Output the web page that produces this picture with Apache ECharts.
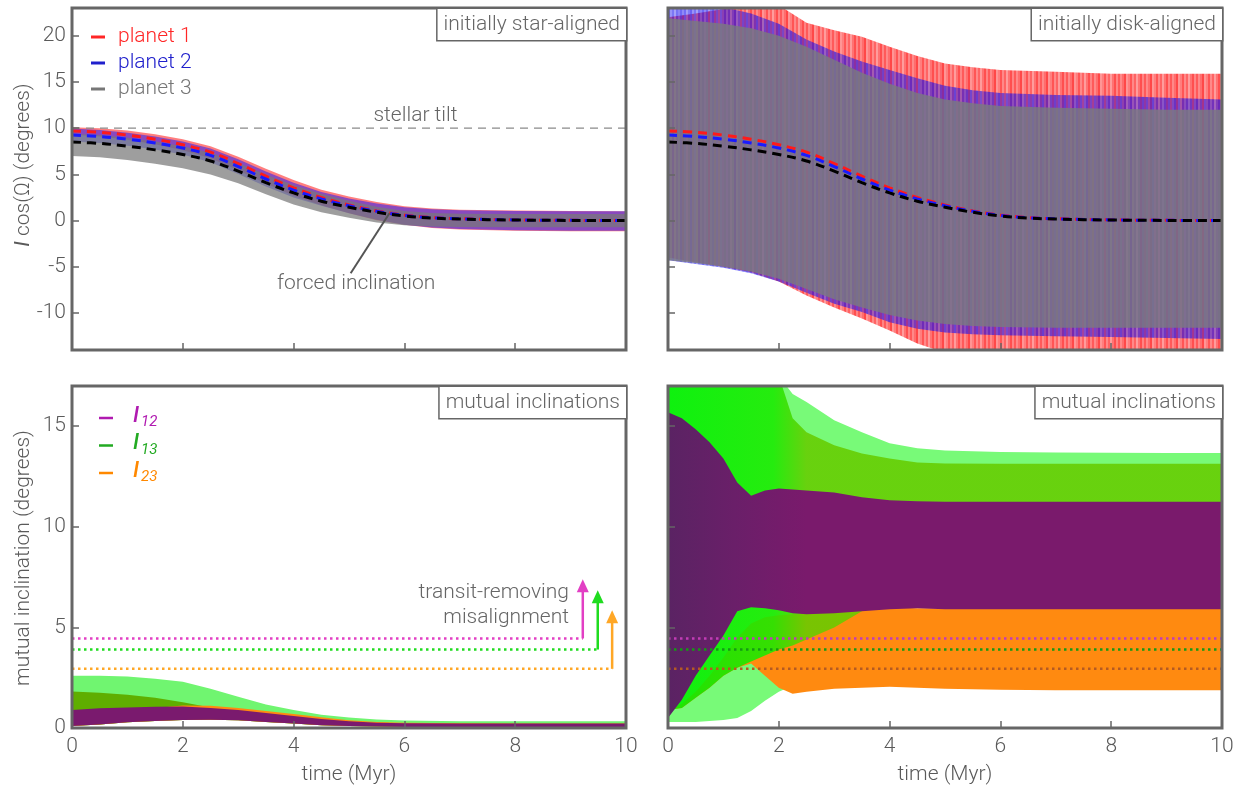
<!DOCTYPE html>
<html>
<head>
<meta charset="utf-8">
<script src="https://cdn.jsdelivr.net/npm/echarts@6/dist/echarts.min.js"></script>
<style>
  html, body { margin: 0; padding: 0; background: #fff; }
  #chart { width: 1243px; height: 788px; }
</style>
</head>
<body>
<div id="chart"></div>
<script>
// ---------- data (time in Myr, angles in degrees) ----------
// top row: I cos(Omega) of the three planets
const tTop = [0, 0.5, 1, 1.5, 2, 2.5, 3, 3.5, 4, 4.5, 5, 5.5, 6, 6.5, 7, 8, 9, 10];
// forced inclination of each planet (dashed curves)
const forced1 = [9.7, 9.55, 9.25, 8.8, 8.2, 7.4, 6.17, 4.8, 3.55, 2.5, 1.7, 1.05, 0.6, 0.33, 0.2, 0.08, 0.03, 0.01];
const forced2 = [9.25, 9.1, 8.8, 8.4, 7.85, 7.05, 5.85, 4.5, 3.3, 2.35, 1.6, 1.0, 0.56, 0.31, 0.19, 0.07, 0.03, 0.01];
const forced3 = [8.5, 8.35, 8.05, 7.65, 7.15, 6.45, 5.35, 4.1, 3.0, 2.1, 1.45, 0.9, 0.5, 0.28, 0.17, 0.06, 0.02, 0.0];
// oscillation envelopes, initially star-aligned
const star1Hi = [10.1, 10.0, 9.75, 9.35, 8.8, 8.05, 6.9, 5.6, 4.4, 3.35, 2.6, 2.0, 1.55, 1.3, 1.18, 1.08, 1.03, 1.0];
const star1Lo = [9.3, 9.1, 8.75, 8.25, 7.6, 6.75, 5.45, 4.0, 2.7, 1.65, 0.8, 0.05, -0.45, -0.8, -0.95, -1.1, -1.15, -1.15];
const star2Hi = [9.95, 9.8, 9.5, 9.1, 8.55, 7.8, 6.65, 5.3, 4.1, 3.1, 2.4, 1.85, 1.45, 1.22, 1.12, 1.04, 1.0, 1.0];
const star2Lo = [8.55, 8.4, 8.1, 7.7, 7.15, 6.3, 5.05, 3.7, 2.5, 1.6, 0.8, 0.1, -0.45, -0.75, -0.9, -1.05, -1.1, -1.1];
const star3Hi = [9.4, 9.25, 8.95, 8.55, 8.05, 7.35, 6.25, 5.0, 3.85, 2.9, 2.15, 1.5, 1.05, 0.82, 0.75, 0.7, 0.7, 0.7];
const star3Lo = [7.0, 6.85, 6.55, 6.15, 5.65, 5.0, 4.05, 2.85, 1.75, 0.9, 0.3, -0.2, -0.5, -0.65, -0.7, -0.72, -0.72, -0.72];
// oscillation envelopes, initially disk-aligned
const tDisk = [0, 0.5, 1, 1.5, 2, 2.5, 3, 3.5, 4, 4.5, 5, 5.5, 6, 7, 8, 9, 10];
const disk1Hi = [22.0, 22.4, 22.9, 23.6, 23.3, 21.4, 20.6, 19.9, 18.8, 17.8, 17.0, 16.6, 16.3, 16.1, 15.9, 15.9, 15.9];
const disk1Lo = [-4.0, -4.5, -5.0, -5.6, -6.6, -8.1, -9.4, -10.6, -11.9, -13.3, -14.3, -14.6, -14.6, -14.6, -14.6, -14.6, -14.6];
const disk2Hi = [23.5, 23.5, 23.1, 22.4, 21.3, 19.6, 18.3, 17.2, 16.3, 15.4, 14.6, 14.1, 13.8, 13.6, 13.5, 13.3, 13.1];
const disk2Lo = [-4.3, -4.7, -5.1, -5.7, -6.6, -7.8, -9.0, -9.9, -11.0, -11.7, -12.1, -12.3, -12.4, -12.5, -12.6, -12.7, -12.8];
const disk3Hi = [21.9, 21.6, 21.3, 20.8, 20.0, 18.8, 17.4, 16.0, 14.8, 13.8, 13.1, 12.7, 12.4, 12.2, 12.1, 12.0, 12.0];
const disk3Lo = [-4.3, -4.6, -5.0, -5.5, -6.3, -7.4, -8.5, -9.4, -10.2, -10.8, -11.2, -11.4, -11.5, -11.6, -11.6, -11.6, -11.6];
const stellarTilt = 10;

// bottom row: mutual inclinations
const tMutA = [0, 0.5, 1, 1.5, 2, 2.5, 3, 3.5, 4, 4.5, 5, 5.5, 6, 7, 8, 9, 10];
const a13OuterHi = [2.6, 2.6, 2.56, 2.45, 2.3, 1.95, 1.55, 1.17, 0.9, 0.66, 0.52, 0.42, 0.37, 0.34, 0.33, 0.33, 0.33];
const a13CoreHi = [1.82, 1.75, 1.65, 1.5, 1.28, 1.02, 0.85, 0.7, 0.55, 0.42, 0.33, 0.27, 0.24, 0.22, 0.21, 0.21, 0.21];
const a23Hi = [0.85, 0.9, 0.95, 1.0, 1.12, 1.1, 1.0, 0.85, 0.7, 0.53, 0.38, 0.3, 0.26, 0.23, 0.22, 0.22, 0.22];
const a12Hi = [0.9, 0.98, 1.02, 1.06, 1.07, 1.0, 0.9, 0.75, 0.6, 0.45, 0.33, 0.26, 0.23, 0.22, 0.22, 0.22, 0.22];
const a12Lo = [0.1, 0.18, 0.28, 0.35, 0.4, 0.41, 0.38, 0.3, 0.22, 0.14, 0.1, 0.07, 0.05, 0.04, 0.04, 0.04, 0.04];

const tMutB = [0, 0.25, 0.5, 0.75, 1, 1.25, 1.5, 1.75, 2, 2.25, 2.5, 3, 3.5, 4, 4.5, 5, 6, 7, 8, 9, 10];
const b13OuterHi = [17.5, 17.5, 17.5, 17.5, 17.5, 17.5, 17.5, 17.5, 17.5, 16.6, 16.2, 15.3, 14.7, 14.15, 13.9, 13.8, 13.72, 13.7, 13.68, 13.67, 13.67];
const b13OuterLo = [0.3, 0.3, 0.3, 0.35, 0.4, 0.5, 0.85, 1.35, 1.8, 2.1, 2.5, 3.6, 5.0, 6.3, 6.5, 6.5, 6.5, 6.5, 6.5, 6.5, 6.5];
const b13CoreHi = [17.5, 17.5, 17.5, 17.5, 17.5, 17.5, 17.5, 17.5, 17.5, 15.4, 14.7, 14.05, 13.65, 13.4, 13.2, 13.15, 13.13, 13.13, 13.13, 13.13, 13.13];
const b13CoreLo = [0.9, 1.0, 1.5, 2.0, 2.6, 3.0, 3.3, 3.6, 3.9, 4.1, 4.4, 5.0, 5.8, 6.4, 6.6, 6.6, 6.6, 6.6, 6.6, 6.6, 6.6];
const b23Hi = [0.9, 1.2, 1.8, 2.6, 3.5, 4.5, 5.2, 5.5, 5.6, 5.65, 5.7, 5.8, 5.9, 6.0, 5.95, 5.95, 5.95, 5.95, 5.95, 5.95, 5.95];
const b23Lo = [0.9, 1.0, 1.5, 2.0, 2.6, 3.0, 3.2, 2.6, 2.0, 1.7, 1.8, 1.95, 2.0, 2.05, 2.0, 1.95, 1.9, 1.88, 1.88, 1.88, 1.88];
const b12Hi = [15.7, 15.4, 14.85, 14.2, 13.4, 12.2, 11.55, 11.8, 11.9, 11.85, 11.8, 11.7, 11.47, 11.32, 11.27, 11.25, 11.25, 11.25, 11.25, 11.25, 11.25];
const b12Lo = [0.5, 1.4, 2.6, 3.6, 4.6, 5.8, 6.0, 5.95, 5.85, 5.7, 5.65, 5.7, 5.8, 5.9, 5.95, 5.9, 5.9, 5.9, 5.9, 5.9, 5.9];

// transit-removing misalignment thresholds (I12, I13, I23) and their arrows
const thresholds = [4.45, 3.9, 2.94];
const arrowTimes = [9.22, 9.49, 9.75];
const arrowTips = [7.4, 6.85, 5.85];

// ---------- styling ----------
const FONT = "Roboto, 'Liberation Sans', 'DejaVu Sans', sans-serif";
const TXT = '#5a5a5a';
const FRAME = '#666';
const GRIDS = [
  { left: 72, top: 8, width: 554, height: 342 },
  { left: 668, top: 8, width: 554, height: 342 },
  { left: 72, top: 386, width: 554, height: 342 },
  { left: 668, top: 386, width: 554, height: 342 }
];
const thrColorsL = ['#e23fc4', '#1fdc1f', '#ffa726'];
const thrColorsR = ['#c23cb8', '#149a14', '#b55a22'];

function hGrad(stops) {
  return new echarts.graphic.LinearGradient(0, 0, 1, 0, stops);
}
// vertical streak texture imitating the unresolved fast oscillation
function streaks(rgb, alphas) {
  const w = 2;
  const c = document.createElement('canvas');
  c.width = alphas.length * w; c.height = 2;
  const ctx = c.getContext('2d');
  alphas.forEach((a, i) => { ctx.fillStyle = 'rgba(' + rgb + ',' + a + ')'; ctx.fillRect(i * w, 0, w, 2); });
  return { image: c, repeat: 'repeat' };
}

// filled band between two envelopes, drawn through the axis scales
function band(gi, times, lo, hi, fill, opacity, z) {
  return {
    type: 'custom', xAxisIndex: gi, yAxisIndex: gi, clip: true, silent: true, z: z,
    data: [[times[0], lo[0]]],
    renderItem: function (params, api) {
      const pts = [];
      for (let i = 0; i < times.length; i++) pts.push(api.coord([times[i], hi[i]]));
      for (let i = times.length - 1; i >= 0; i--) pts.push(api.coord([times[i], lo[i]]));
      return { type: 'polygon', shape: { points: pts }, style: { fill: fill, opacity: opacity } };
    }
  };
}

function pairs(times, vals) { return times.map((t, i) => [t, vals[i]]); }

function dashed(gi, vals, color) {
  return {
    type: 'line', xAxisIndex: gi, yAxisIndex: gi, data: pairs(tTop, vals), smooth: 0.4,
    showSymbol: false, silent: true, z: 6,
    lineStyle: { color: color, width: 3, type: [9, 6] }
  };
}

function xAxis(gi) {
  const bottom = gi >= 2;
  return {
    type: 'value', gridIndex: gi, position: 'bottom', min: 0, max: 10, interval: 2, z: 10,
    axisLine: { show: false, onZero: false }, splitLine: { show: false },
    axisTick: { inside: true, length: 7, lineStyle: { color: FRAME, width: 1.5 } },
    axisLabel: { show: bottom, fontSize: 21, color: TXT, fontFamily: FONT, fontWeight: 300, margin: 8 },
    name: bottom ? 'time (Myr)' : '', nameLocation: 'middle', nameGap: 36,
    nameTextStyle: { fontSize: 21, color: TXT, fontFamily: FONT, fontWeight: 300 }
  };
}

function yAxis(gi) {
  const top = gi < 2;
  return {
    type: 'value', gridIndex: gi, position: 'left', min: top ? -14 : 0, max: top ? 23 : 17,
    splitNumber: top ? 8 : 4, z: 10,
    axisLine: { show: false, onZero: false }, splitLine: { show: false },
    axisTick: { inside: true, length: 7, lineStyle: { color: FRAME, width: 1.5 } },
    axisLabel: {
      show: gi % 2 === 0, fontSize: 21, color: TXT, fontFamily: FONT, fontWeight: 300, margin: 6,
      formatter: v => (Math.abs(v % 5) < 1e-9 ? String(v) : '')
    }
  };
}

const series = [];
// top-left: initially star-aligned
series.push(band(0, tTop, star1Lo, star1Hi, 'rgba(255,20,20,0.55)', 1, 2));
series.push(band(0, tTop, star2Lo, star2Hi, 'rgba(20,20,255,0.5)', 1, 3));
series.push(band(0, tTop, star3Lo, star3Hi, 'rgba(120,120,120,0.72)', 1, 4));
series.push(dashed(0, forced1, '#ff1a1a'), dashed(0, forced2, '#1a1aff'), dashed(0, forced3, '#000'));
series.push({
  type: 'line', xAxisIndex: 0, yAxisIndex: 0, data: [[0, stellarTilt], [10, stellarTilt]],
  showSymbol: false, silent: true, z: 5, lineStyle: { color: '#8a8a8a', width: 1.2, type: [8, 6] }
});
series.push({
  type: 'line', xAxisIndex: 0, yAxisIndex: 0, data: [[5.03, -5.7], [5.73, 0.79]],
  showSymbol: false, silent: true, z: 7, lineStyle: { color: '#555', width: 2 }
});
// top-right: initially disk-aligned
series.push(band(1, tDisk, disk1Lo, disk1Hi,
  streaks('255,20,20', [0.7, 0.5, 0.62, 0.78, 0.45, 0.55, 0.72, 0.5, 0.66, 0.42, 0.6, 0.75, 0.52]), 1, 2));
series.push(band(1, tDisk, disk2Lo, disk2Hi,
  streaks('30,20,240', [0.5, 0.62, 0.42, 0.56, 0.66, 0.46, 0.58, 0.4, 0.6, 0.52, 0.64]), 1, 3));
series.push(band(1, tDisk, disk3Lo, disk3Hi,
  streaks('122,122,128', [0.82, 0.76, 0.86, 0.74, 0.84, 0.8, 0.88, 0.75, 0.83]), 1, 4));
series.push(dashed(1, forced1, '#ff1a1a'), dashed(1, forced2, '#1a1aff'), dashed(1, forced3, '#000'));

// bottom-left: mutual inclinations, star-aligned start
series.push(band(2, tMutA, a12Lo, a13OuterHi, '#70f570', 1, 2));
series.push(band(2, tMutA, a12Lo, a13CoreHi, '#5fae00', 1, 3));
series.push(band(2, tMutA, a12Lo, a23Hi, '#ff8a10', 1, 4));
series.push(band(2, tMutA, a12Lo, a12Hi, '#7a1a6e', 1, 5));
// bottom-right: mutual inclinations, disk-aligned start
series.push(band(3, tMutB, b13OuterLo, b13OuterHi, '#78fa78', 1, 2));
series.push(band(3, tMutB, b23Lo, b23Hi, '#ff8a10', 1, 3));
series.push(band(3, tMutB, b13CoreLo, b13CoreHi,
  hGrad([{ offset: 0, color: '#00f000' }, { offset: 0.19, color: '#1aea00' }, { offset: 0.25, color: '#66cc00' }, { offset: 1, color: '#66cc00' }]), 0.88, 4));
series.push(band(3, tMutB, b12Lo, b12Hi,
  hGrad([{ offset: 0, color: '#5a2363' }, { offset: 0.12, color: '#6a1f69' }, { offset: 0.25, color: '#7a1a6c' }, { offset: 1, color: '#7a1a6c' }]), 1, 5));

// threshold lines
thresholds.forEach((v, k) => {
  series.push({
    type: 'line', xAxisIndex: 2, yAxisIndex: 2, data: [[0, v], [arrowTimes[k], v]],
    showSymbol: false, silent: true, z: 8, lineStyle: { color: thrColorsL[k], width: 2.5, type: [2.5, 3.5] }
  });
  series.push({
    type: 'line', xAxisIndex: 3, yAxisIndex: 3, data: [[0, v], [10, v]],
    showSymbol: false, silent: true, z: 8, lineStyle: { color: thrColorsR[k], width: 2.5, type: [2.5, 3.5] }
  });
});
// arrows rising from the thresholds
series.push({
  type: 'custom', xAxisIndex: 2, yAxisIndex: 2, silent: true, z: 9,
  data: thresholds.map((v, k) => [arrowTimes[k], v, arrowTips[k], k]),
  renderItem: function (params, api) {
    const p0 = api.coord([api.value(0), api.value(1)]);
    const p1 = api.coord([api.value(0), api.value(2)]);
    const c = thrColorsL[api.value(3)];
    return {
      type: 'group', children: [
        { type: 'line', shape: { x1: p0[0], y1: p0[1], x2: p1[0], y2: p1[1] + 8 }, style: { stroke: c, lineWidth: 2.5 } },
        { type: 'polygon', shape: { points: [[p1[0], p1[1]], [p1[0] - 6, p1[1] + 13], [p1[0] + 6, p1[1] + 13]] }, style: { fill: c } }
      ]
    };
  }
});

const option = {
  backgroundColor: '#fff',
  animation: false,
  grid: GRIDS.map(g => Object.assign({ containLabel: false }, g)),
  xAxis: [0, 1, 2, 3].map(xAxis),
  yAxis: [0, 1, 2, 3].map(yAxis),
  series: series
};

const chart = echarts.init(document.getElementById('chart'));
chart.setOption(option);

// ---------- frames, legends and annotations ----------
const px = (gi, x, y) => chart.convertToPixel({ gridIndex: gi }, [x, y]);
const g = [];
GRIDS.forEach(r => g.push({
  type: 'rect', z: 100, silent: true,
  shape: { x: r.left, y: r.top, width: r.width, height: r.height },
  style: { fill: 'none', stroke: FRAME, lineWidth: 3 }
}));
function boxLabel(text, gi) {
  const r = GRIDS[gi];
  return {
    type: 'text', z: 101, x: r.left + r.width, y: r.top + 1,
    style: {
      text: text, font: '300 21px ' + FONT, fill: '#666', align: 'right', verticalAlign: 'top',
      padding: [5, 6, 5, 6], backgroundColor: '#fff', borderColor: '#666', borderWidth: 1.5
    }
  };
}
g.push(boxLabel('initially star-aligned', 0), boxLabel('initially disk-aligned', 1),
  boxLabel('mutual inclinations', 2), boxLabel('mutual inclinations', 3));

function txt(x, y, text, color, align) {
  return {
    type: 'text', z: 102, x: x, y: y,
    style: { text: text, font: '300 21px ' + FONT, fill: color, align: align || 'left', verticalAlign: 'middle' }
  };
}
// planet legend
[['planet 1', '#ff2626'], ['planet 2', '#2020cc'], ['planet 3', '#777']].forEach((it, k) => {
  const y = 37 + k * 26;
  g.push({ type: 'line', z: 102, shape: { x1: 91, y1: y, x2: 105, y2: y }, style: { stroke: it[1], lineWidth: 3 } });
  g.push(txt(118, y, it[0], it[1]));
});
// mutual-inclination legend
[['12', '#b01ab0'], ['13', '#22aa22'], ['23', '#ff8800']].forEach((it, k) => {
  const y = 418 + k * 27.5;
  g.push({ type: 'line', z: 102, shape: { x1: 99, y1: y, x2: 113, y2: y }, style: { stroke: it[1], lineWidth: 2.5 } });
  g.push({ type: 'text', z: 102, x: 133, y: y + 9, style: { text: 'I', font: 'italic 500 22px ' + FONT, fill: it[1], verticalAlign: 'bottom' } });
  g.push({ type: 'text', z: 102, x: 141, y: y + 12, style: { text: it[0], font: 'italic 15px ' + FONT, fill: it[1], verticalAlign: 'bottom' } });
});
// axis titles
g.push({
  type: 'text', z: 102, x: 24, y: 165, rotation: Math.PI / 2,
  style: {
    text: '{i|I} cos(Ω) (degrees)', font: '300 21px ' + FONT, fill: TXT, align: 'center', verticalAlign: 'middle',
    rich: { i: { fontStyle: 'italic', fontSize: 21, fontFamily: FONT, fill: TXT } }
  }
});
g.push({
  type: 'text', z: 102, x: 24, y: 558, rotation: Math.PI / 2,
  style: { text: 'mutual inclination (degrees)', font: '300 21px ' + FONT, fill: TXT, align: 'center', verticalAlign: 'middle' }
});
// in-panel notes
let p = px(0, 6.2, 11.3); g.push(txt(p[0], p[1], 'stellar tilt', '#666', 'center'));
p = px(0, 5.13, -6.86); g.push(txt(p[0], p[1], 'forced inclination', '#666', 'center'));
p = px(2, 8.97, 6.71); g.push(txt(p[0], p[1], 'transit-removing', '#666', 'right'));
p = px(2, 8.97, 5.47); g.push(txt(p[0], p[1], 'misalignment', '#666', 'right'));

chart.setOption({ graphic: g });
</script>
</body>
</html>
